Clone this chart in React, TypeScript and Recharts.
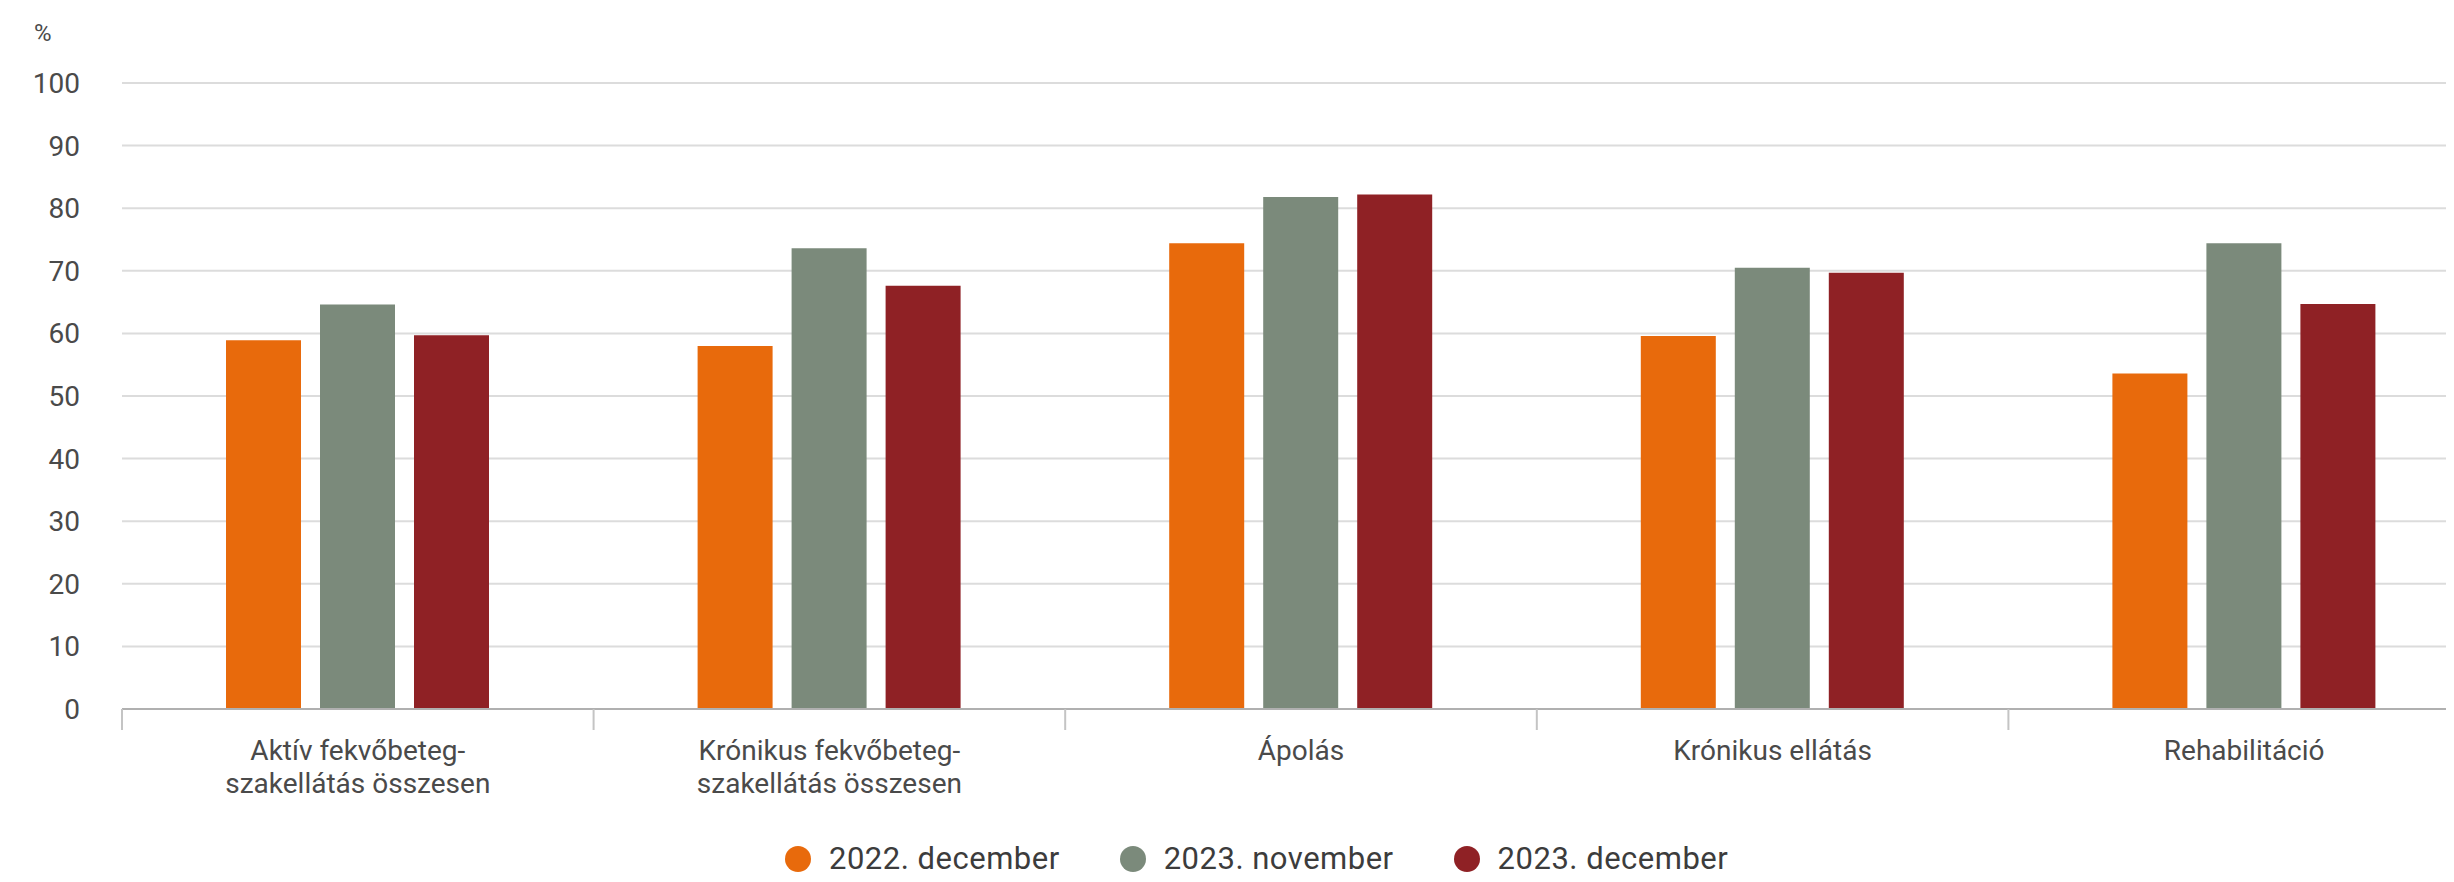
import React from "react";
import { BarChart, Bar, XAxis, YAxis, CartesianGrid } from "recharts";

const categories = [
  "Aktív fekvőbeteg-\nszakellátás összesen",
  "Krónikus fekvőbeteg-\nszakellátás összesen",
  "Ápolás",
  "Krónikus ellátás",
  "Rehabilitáció",
];
const dec2022 = [58.9, 58.0, 74.4, 59.6, 53.6];
const nov2023 = [64.6, 73.6, 81.8, 70.5, 74.4];
const dec2023 = [59.7, 67.6, 82.2, 69.7, 64.7];
const yTicks = [0, 10, 20, 30, 40, 50, 60, 70, 80, 90, 100];
const seriesNames = ["2022. december", "2023. november", "2023. december"];
const seriesColors = ["#E86A0C", "#7B8A7B", "#8F2125"];

const data = categories.map((c, i) => ({
  name: c,
  s0: dec2022[i],
  s1: nov2023[i],
  s2: dec2023[i],
}));

const CHART_W = 2472;
const CHART_H = 874;
const Y_W = 114;
const PLOT_W = CHART_W - Y_W;
const BAND = PLOT_W / categories.length;
const FONT = "Roboto, 'Noto Sans', sans-serif";

const XTick = (props: any) => {
  const { x, y, payload } = props;
  const lines = String(payload.value).split("\n");
  const left = x - BAND / 2;
  return (
    <g>
      <line x1={left} x2={left} y1={y} y2={y + 21} stroke="#c4c4c4" strokeWidth={2} />
      {lines.map((l: string, i: number) => (
        <text
          key={i}
          x={x}
          y={y + 51 + i * 33}
          textAnchor="middle"
          fontSize={28}
          fill="#4a4a4a"
          fontFamily={FONT}
        >
          {l}
        </text>
      ))}
    </g>
  );
};

export default function App() {
  return (
    <div style={{ position: "relative", width: 2446, height: 874, overflow: "hidden", fontFamily: FONT }}>
      <BarChart
        width={CHART_W}
        height={CHART_H}
        data={data}
        margin={{ top: 75, right: 0, left: 0, bottom: 73 }}
        barSize={75}
        barGap={19}
      >
        <CartesianGrid vertical={false} stroke="#dcdcdc" strokeWidth={2} />
        <XAxis
          dataKey="name"
          height={100}
          tick={<XTick />}
          tickLine={false}
          tickSize={0}
          tickMargin={0}
          interval={0}
          axisLine={{ stroke: "#b0b0b0", strokeWidth: 2 }}
        />
        <YAxis
          width={Y_W}
          domain={[0, 100]}
          ticks={yTicks}
          interval={0}
          axisLine={false}
          tickLine={false}
          tickSize={0}
          tickMargin={42}
          tick={{ fontSize: 28, fill: "#4a4a4a", fontFamily: FONT }}
        />
        {["s0", "s1", "s2"].map((k, i) => (
          <Bar key={k} dataKey={k} name={seriesNames[i]} fill={seriesColors[i]} isAnimationActive={false} />
        ))}
      </BarChart>
      <div
        style={{
          position: "absolute",
          left: 26,
          top: 25,
          transform: "translateY(-50%)",
          fontSize: 24,
          lineHeight: "26px",
          color: "#4a4a4a",
        }}
      >
        %
      </div>
      <div
        style={{
          position: "absolute",
          left: 777,
          top: 851,
          transform: "translateY(-50%)",
          display: "flex",
          alignItems: "center",
          gap: 60,
          fontSize: 31,
          letterSpacing: "0.5px",
          lineHeight: "30px",
          color: "#3c3c3c",
          whiteSpace: "nowrap",
        }}
      >
        {seriesNames.map((n, i) => (
          <div key={n} style={{ display: "flex", alignItems: "center" }}>
            <span
              style={{
                display: "inline-block",
                width: 26,
                height: 26,
                borderRadius: "50%",
                background: seriesColors[i],
                marginRight: 18,
              }}
            />
            <span>{n}</span>
          </div>
        ))}
      </div>
    </div>
  );
}
